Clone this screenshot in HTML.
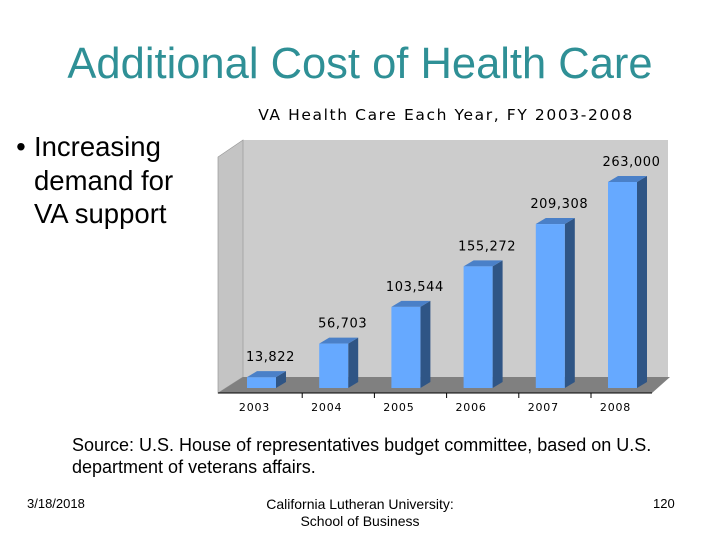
<!DOCTYPE html>
<html><head><meta charset="utf-8"><style>
body{margin:0;width:720px;height:540px;background:#fff;overflow:hidden;position:relative;font-family:"Liberation Sans",Arial,sans-serif}
.a{position:absolute;white-space:nowrap}
</style></head><body>
<div class="a" style="left:0;width:720px;text-align:center;top:38px;font-size:43.5px;color:#2f9096;line-height:52px">Additional Cost of Health Care</div>
<div class="a" style="left:8px;top:130px;font-size:27.5px;line-height:33.5px;color:#000"><span style="display:inline-block;width:26px;text-align:center">•</span>Increasing<br><span style="display:inline-block;width:26px"></span>demand for<br><span style="display:inline-block;width:26px"></span>VA support</div>
<svg class="a" style="left:0;top:0" width="720" height="540">
<text x="446" y="120" text-anchor="middle" font-family="DejaVu Sans, sans-serif" font-size="15.5" letter-spacing="1.6" fill="#000">VA Health Care Each Year, FY 2003-2008</text>
<polygon points="243,140 668,140 668,377 243,377" fill="#cccccc"/>
<polygon points="218,157 243,140 243,377 218,393" fill="#c4c4c4" stroke="#999" stroke-width="0.7"/>
<polygon points="218,393 243,377 670,377 652,393" fill="#808080"/>
<line x1="218" y1="393" x2="652" y2="393" stroke="#000" stroke-width="1"/>
<g id="bars"></g>
</svg>
<div class="a" style="left:72px;top:434px;font-size:18px;line-height:22px;color:#000">Source: U.S. House of representatives budget committee, based on U.S.<br>department of veterans affairs.</div>
<div class="a" style="left:27px;top:496px;font-size:13px">3/18/2018</div>
<div class="a" style="left:0;width:720px;text-align:center;top:496px;font-size:14px;line-height:17px">California Lutheran University:<br>School of Business</div>
<div class="a" style="left:653px;top:496px;font-size:13px">120</div>
<script>
const categories=["2003","2004","2005","2006","2007","2008"];
const values=[13822,56703,103544,155272,209308,263000];
const valueLabels=["13,822","56,703","103,544","155,272","209,308","263,000"];
const NS="http://www.w3.org/2000/svg";
const g=document.getElementById('bars');
const base=388, scale=206/263000, x0=247, step=72.2, bw=29, dx=10, dy=6;
const xs=i=>x0+i*step, ys=v=>base-v*scale;
function mk(t,a){const e=document.createElementNS(NS,t);for(const k in a)e.setAttribute(k,a[k]);g.appendChild(e);return e;}
values.forEach((v,i)=>{
 const x=xs(i),y=ys(v);
 const s=mk('polygon',{points:`${x+bw},${y} ${x+bw+dx},${y-dy} ${x+bw+dx},${base-dy} ${x+bw},${base}`,fill:'#2f5585'});
 
 
 const t=mk('polygon',{points:`${x},${y} ${x+dx},${y-dy} ${x+bw+dx},${y-dy} ${x+bw},${y}`,fill:'#4a80c8'});
 
 
 const r=mk('rect',{x:x,y:y,width:bw,height:base-y,fill:'#66a9ff'});
 
 
 const l=mk('text',{x:x+bw/2+9,y:y-16,'text-anchor':'middle','font-family':'DejaVu Sans, sans-serif','font-size':'13','letter-spacing':'0.6',fill:'#000'});
 l.textContent=valueLabels[i];
 
 
 const c=mk('text',{x:x+bw/2-7,y:411,'text-anchor':'middle','font-family':'DejaVu Sans, sans-serif','font-size':'11','letter-spacing':'0.8',fill:'#000'});
 c.textContent=categories[i];
 
 
 if(i>0){const tk=mk('line',{x1:x-17,y1:393,x2:x-17,y2:398,stroke:'#000'});
 
 }
});
</script>
</body></html>
